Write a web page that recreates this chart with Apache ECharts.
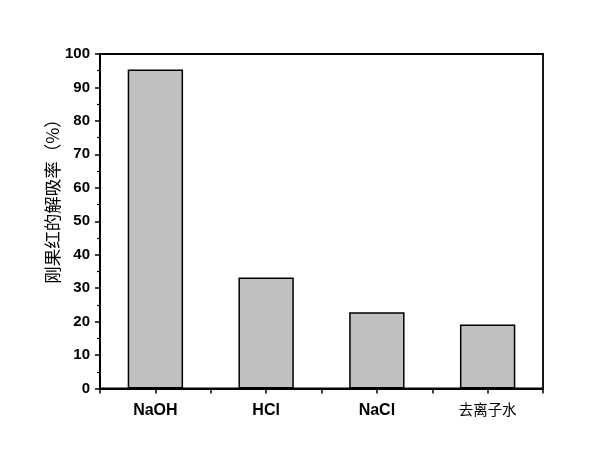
<!DOCTYPE html>
<html>
<head>
<meta charset="utf-8">
<script src="https://cdn.jsdelivr.net/npm/echarts@6/dist/echarts.min.js"></script>
<style>html,body{margin:0;padding:0;background:#fff;}#c{width:600px;height:452px;}</style>
</head>
<body>
<div id="c"></div>
<script>
const categories = ['NaOH', 'HCl', 'NaCl', '去离子水'];
const values = [95.4, 33.2, 22.8, 19.1];
const yTicks = [0, 10, 20, 30, 40, 50, 60, 70, 80, 90, 100];
const yAxisTitle = '刚果红的解吸率（%）';

const chart = echarts.init(document.getElementById('c'), null, {renderer: 'canvas'});
const latinFont = '"Liberation Sans", Arial, Helvetica, sans-serif';
const cjkFont = '"Noto Sans CJK SC", sans-serif';
chart.setOption({
  animation: false,
  backgroundColor: '#fff',
  grid: {left: 100, right: 57, top: 54, bottom: 63.5, show: true, borderColor: '#000', borderWidth: 1.8, backgroundColor: 'transparent'},
  xAxis: [{
    type: 'category',
    data: categories,
    position: 'bottom',
    axisLine: {lineStyle: {color: '#000', width: 2}},
    axisTick: {show: true, inside: false, length: 5, lineStyle: {color: '#000', width: 1.5}},
    axisLabel: {
      margin: 14,
      color: '#000',
      formatter: function (v) { return /[A-Za-z]/.test(v) ? '{l|' + v + '}' : '{c|' + v + '}'; },
      rich: {
        l: {fontFamily: latinFont, fontWeight: 'bold', fontSize: 16, color: '#000'},
        c: {fontFamily: cjkFont, fontWeight: 'normal', fontSize: 14.5, color: '#000'}
      }
    },
    splitLine: {show: false}
  }, {
    type: 'category',
    data: categories,
    position: 'bottom',
    axisLine: {show: false},
    axisTick: {show: true, alignWithLabel: true, inside: false, length: 5, lineStyle: {color: '#000', width: 1.5}},
    axisLabel: {show: false},
    splitLine: {show: false}
  }],
  yAxis: {
    type: 'value',
    min: yTicks[0],
    max: yTicks[yTicks.length - 1],
    interval: 10,
    axisLine: {show: true, lineStyle: {color: '#000', width: 2}},
    axisTick: {show: true, inside: false, length: 5, lineStyle: {color: '#000', width: 1.5}},
    minorTick: {show: true, splitNumber: 2, length: 3, lineStyle: {color: '#000', width: 1.2}},
    axisLabel: {margin: 10, color: '#000', fontFamily: latinFont, fontWeight: 'bold', fontSize: 15},
    splitLine: {show: false}
  },
  series: [{
    type: 'bar',
    xAxisIndex: 0,
    data: values,
    barWidth: '50%',
    itemStyle: {color: '#c0c0c0', borderColor: '#000', borderWidth: 1.5}
  }],
  graphic: [{
    type: 'text',
    x: 52,
    y: 197,
    rotation: Math.PI / 2,
    style: {text: yAxisTitle, fontFamily: cjkFont, fontSize: 17.5, fill: '#000', align: 'center', verticalAlign: 'middle'}
  }]
});
</script>
</body>
</html>
